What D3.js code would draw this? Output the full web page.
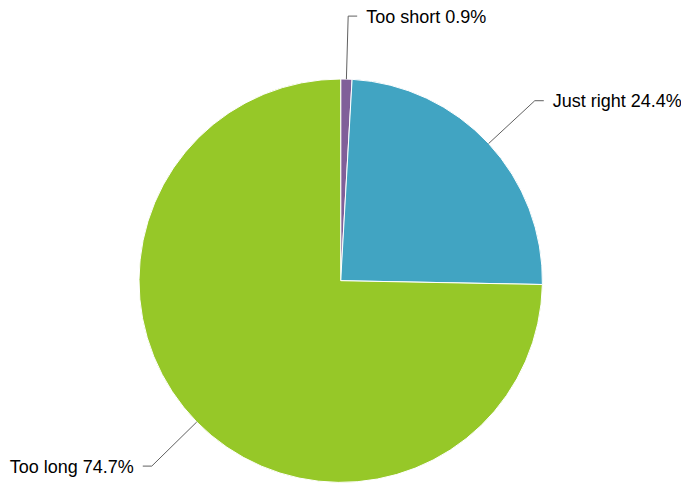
<!DOCTYPE html>
<html><head><meta charset="utf-8">
<script src="https://cdn.jsdelivr.net/npm/d3@7/dist/d3.min.js"></script>
<style>body{margin:0;background:#fff}svg{display:block}</style>
</head><body>
<svg id="c" width="681" height="485"></svg>
<script>
const categories = ["Too short", "Just right", "Too long"];
const values = [0.9, 24.4, 74.7];
const colors = ["#805f99", "#41a4c2", "#96c828"];

const W = 681, H = 485, cx = 340.7, cy = 280.7, R = 201.7;
const svg = d3.select("#c");
const g = svg.append("g").attr("transform", `translate(${cx},${cy})`);

const data = categories.map((c, i) => ({name: c, value: values[i], color: colors[i]}));
const pie = d3.pie().value(d => d.value).sort(null);
const arc = d3.arc().innerRadius(0).outerRadius(R);
const arcs = pie(data);

g.selectAll("path.slice").data(arcs).join("path")
  .attr("class", "slice")
  .attr("d", arc)
  .attr("fill", d => d.data.color)
  .attr("stroke", "#fff").attr("stroke-width", 1).attr("stroke-linejoin", "round");

const ext = 63, hseg = 9, gap = 9;
arcs.forEach(a => {
  const m = (a.startAngle + a.endAngle) / 2;
  const sx = R * Math.sin(m), sy = -R * Math.cos(m);
  const ex = (R + ext) * Math.sin(m), ey = -(R + ext) * Math.cos(m);
  const right = Math.sin(m) >= 0;
  const hx = ex + (right ? hseg : -hseg);
  g.append("path")
    .attr("d", `M${sx},${sy}L${ex},${ey}L${hx},${ey}`)
    .attr("fill", "none").attr("stroke", "#606060").attr("stroke-width", 1);
  g.append("text")
    .attr("x", hx + (right ? gap : -gap))
    .attr("y", ey)
    .attr("dy", "0.36em")
    .attr("text-anchor", right ? "start" : "end")
    .attr("font-family", "Liberation Sans, Arial, sans-serif")
    .attr("font-size", 18)
    .attr("fill", "#000")
    .text(`${a.data.name} ${a.data.value.toFixed(1)}%`);
});
</script>
</body></html>
